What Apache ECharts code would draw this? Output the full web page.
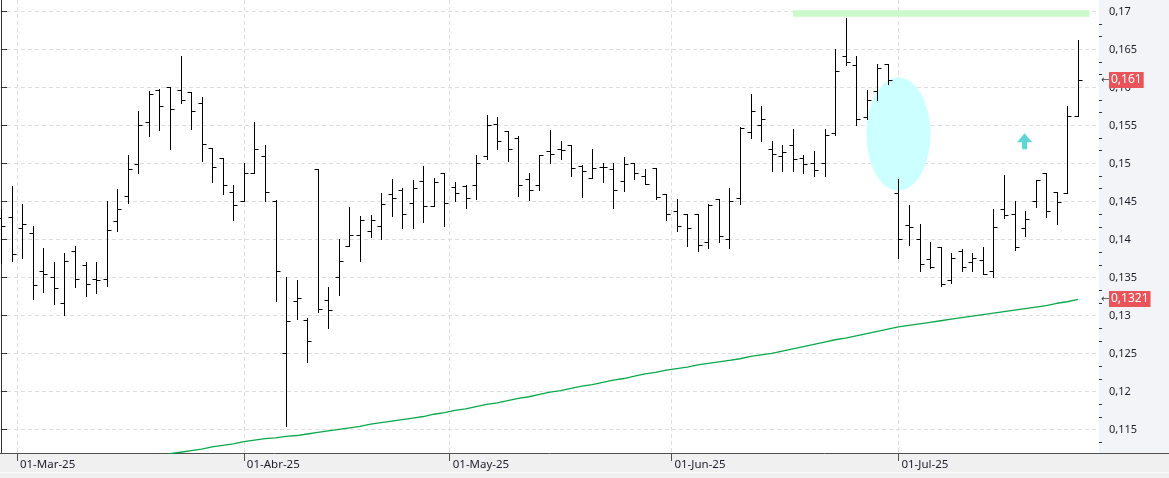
<!DOCTYPE html>
<html>
<head>
<meta charset="utf-8">
<script src="https://cdn.jsdelivr.net/npm/echarts@6/dist/echarts.min.js"></script>
<style>
html,body{margin:0;padding:0;background:#f0f0f0;}
#c{width:1169px;height:478px;}
</style>
</head>
<body>
<div id="c"></div>
<script>
// ---- data (trading days, 2025) ----
const dates = ['02-27','02-28',
 '03-03','03-04','03-05','03-06','03-07','03-10','03-11','03-12','03-13','03-14','03-17','03-18','03-19','03-20','03-21','03-24','03-25','03-26','03-27','03-28','03-31',
 '04-01','04-02','04-03','04-04','04-07','04-08','04-09','04-10','04-11','04-14','04-15','04-16','04-17','04-22','04-23','04-24','04-25','04-28','04-29','04-30',
 '05-02','05-05','05-06','05-07','05-08','05-09','05-12','05-13','05-14','05-15','05-16','05-19','05-20','05-21','05-22','05-23','05-26','05-27','05-28','05-29','05-30',
 '06-02','06-03','06-04','06-05','06-06','06-09','06-10','06-11','06-12','06-13','06-16','06-17','06-18','06-19','06-20','06-23','06-24','06-25','06-26','06-27','06-30',
 '07-01','07-02','07-03','07-04','07-07','07-08','07-09','07-10','07-11','07-14','07-15','07-16','07-17','07-18','07-21','07-22','07-23','07-24'];

const open = [0.1428,0.1430,0.1415,0.1408,0.1358,0.1351,0.1316,0.1385,0.1366,0.1348,0.1348,0.1424,0.1457,0.1499,0.1554,0.1596,0.1600,0.1596,0.1594,0.1579,
 0.1520,0.1507,0.1462,0.1450,0.1488,0.1510,0.1451,0.1250,0.1319,0.1294,0.1492,0.1320,0.1350,0.1392,0.1406,0.1411,0.1418,0.1460,0.1465,0.1448,
 0.1477,0.1444,0.1488,0.1469,0.1470,0.1472,0.1510,0.1552,0.1542,0.1533,0.1480,0.1472,0.1516,0.1519,0.1524,0.1496,0.1481,0.1495,0.1492,0.1477,
 0.1500,0.1484,0.1494,0.1460,0.1438,0.1434,0.1434,0.1397,0.1453,0.1400,0.1454,0.1541,0.1550,0.1519,0.1510,0.1524,0.1507,0.1500,0.1500,0.1540,
 0.1641,0.1629,0.1561,0.1595,0.1631,0.1461,0.1419,0.1400,0.1374,0.1390,0.1347,0.1385,0.1370,0.1373,0.1358,0.1440,0.1434,0.1415,0.1450,0.1487,
 0.1462,0.1461,0.1562];
const high = [0.1440,0.1470,0.1447,0.1418,0.1389,0.1370,0.1382,0.1392,0.1370,0.1370,0.1450,0.1466,0.1511,0.1569,0.1595,0.1598,0.1600,0.1641,0.1594,0.1587,
 0.1520,0.1507,0.1471,0.1500,0.1554,0.1524,0.1452,0.1350,0.1347,0.1296,0.1492,0.1338,0.1400,0.1442,0.1431,0.1432,0.1461,0.1480,0.1468,0.1478,
 0.1496,0.1481,0.1488,0.1476,0.1472,0.1511,0.1564,0.1561,0.1542,0.1536,0.1488,0.1511,0.1544,0.1529,0.1524,0.1498,0.1519,0.1500,0.1500,0.1508,
 0.1500,0.1492,0.1494,0.1460,0.1453,0.1434,0.1434,0.1447,0.1453,0.1468,0.1548,0.1591,0.1576,0.1530,0.1524,0.1545,0.1511,0.1516,0.1545,0.1651,
 0.1691,0.1641,0.1597,0.1631,0.1631,0.1480,0.1445,0.1420,0.1396,0.1390,0.1382,0.1388,0.1382,0.1390,0.1440,0.1485,0.1450,0.1438,0.1478,0.1488,
 0.1462,0.1576,0.1663];
const low = [0.1369,0.1372,0.1376,0.1322,0.1331,0.1315,0.1301,0.1338,0.1326,0.1330,0.1339,0.1411,0.1448,0.1488,0.1536,0.1544,0.1519,0.1580,0.1545,0.1503,
 0.1476,0.1460,0.1426,0.1450,0.1488,0.1450,0.1319,0.1154,0.1295,0.1239,0.1304,0.1283,0.1327,0.1391,0.1372,0.1403,0.1400,0.1431,0.1415,0.1415,
 0.1423,0.1444,0.1418,0.1450,0.1441,0.1453,0.1506,0.1519,0.1503,0.1457,0.1452,0.1465,0.1500,0.1506,0.1483,0.1456,0.1481,0.1475,0.1441,0.1464,
 0.1479,0.1473,0.1453,0.1426,0.1411,0.1391,0.1385,0.1389,0.1396,0.1389,0.1446,0.1533,0.1529,0.1490,0.1490,0.1490,0.1487,0.1484,0.1484,0.1538,
 0.1630,0.1550,0.1558,0.1583,0.1604,0.1376,0.1393,0.1358,0.1362,0.1339,0.1343,0.1359,0.1358,0.1355,0.1350,0.1428,0.1386,0.1404,0.1442,0.1430,
 0.1420,0.1461,0.1562];
const close = [0.1418,0.1381,0.1420,0.1340,0.1355,0.1336,0.1372,0.1348,0.1342,0.1346,0.1412,0.1440,0.1492,0.1550,0.1591,0.1576,0.1572,0.1584,0.1569,0.1526,
 0.1495,0.1472,0.1445,0.1488,0.1519,0.1462,0.1358,0.1293,0.1323,0.1266,0.1309,0.1307,0.1372,0.1406,0.1426,0.1426,0.1446,0.1454,0.1434,0.1468,
 0.1444,0.1476,0.1448,0.1461,0.1454,0.1500,0.1550,0.1530,0.1519,0.1472,0.1465,0.1511,0.1512,0.1518,0.1494,0.1490,0.1494,0.1495,0.1465,0.1499,
 0.1487,0.1473,0.1456,0.1434,0.1418,0.1415,0.1393,0.1445,0.1404,0.1450,0.1546,0.1569,0.1558,0.1512,0.1515,0.1506,0.1499,0.1491,0.1538,0.1622,
 0.1634,0.1558,0.1584,0.1626,0.1610,0.1401,0.1416,0.1368,0.1364,0.1341,0.1376,0.1364,0.1376,0.1355,0.1416,0.1432,0.1390,0.1427,0.1478,0.1438,
 0.1449,0.1562,0.1610];
// moving average (green), null before it enters the chart
const ma = [null,null,null,null,null,null,null,null,null,null,null,null,null,null,0.1113,0.1115,0.1118,0.1120,0.1122,0.1124,
 0.1127,0.1129,0.1131,0.1134,0.1136,0.1138,0.1139,0.1141,0.1142,0.1144,0.1146,0.1148,0.1150,0.1152,0.1154,0.1157,0.1159,0.1161,0.1163,0.1165,
 0.1167,0.1170,0.1172,0.1175,0.1177,0.1180,0.1183,0.1185,0.1188,0.1191,0.1193,0.1196,0.1199,0.1201,0.1204,0.1207,0.1209,0.1212,0.1215,0.1217,
 0.1220,0.1223,0.1225,0.1228,0.1230,0.1232,0.1235,0.1237,0.1239,0.1241,0.1243,0.1246,0.1248,0.1250,0.1253,0.1256,0.1259,0.1262,0.1265,0.1268,
 0.1270,0.1273,0.1276,0.1279,0.1282,0.1285,0.1287,0.1289,0.1291,0.1293,0.1295,0.1297,0.1299,0.1301,0.1303,0.1305,0.1307,0.1309,0.1311,0.1313,
 0.1316,0.1318,0.1321];

const monthStarts = ['03-01','04-01','05-01','06-01','07-01'];
const monthLabels = ['01-Mar-25','01-Abr-25','01-May-25','01-Jun-25','01-Jul-25'];
const yTicks = [0.115,0.12,0.125,0.13,0.135,0.14,0.145,0.15,0.155,0.16,0.165,0.17];

// annotations (in data coordinates)
const resistance = [[75.0,0.16974],[103.1,0.16974]];
const ellipseZone = [[85.0,0.15386,6.06,0.01491]];
const upArrow = [[96.95,0.1529]];

// ---- derived ----
const monthPos = monthStarts.map(function(m){
  const i = dates.indexOf(m);
  if (i >= 0) return i;
  for (let j=0;j<dates.length;j++){ if (dates[j] > m) return j - 0.5; }
  return dates.length - 0.5;
});
const ohlc = dates.map(function(d,i){ return [i, open[i], high[i], low[i], close[i]]; });
const maData = [];
ma.forEach(function(v,i){ if (v!==null) maData.push([i,v]); });
const yMin = 0.1119, yMax = 0.1715;
const minorTicks = [];
yTicks.concat([0.11]).forEach(function(t){
  [1,2].forEach(function(s){ const v = +(t + s*0.005/3).toFixed(6); if (v>yMin && v<yMax) minorTicks.push(v); });
});
function fmt(v){ return String(+v.toFixed(4)).replace('.', ','); }

const chart = echarts.init(document.getElementById('c'), null, {renderer:'canvas'});
const lastClose = close[close.length-1];
const lastMa = ma[ma.length-1];
const lastValues = [lastClose, lastMa];

chart.setOption({
  animation:false,
  backgroundColor:'#f0f0f0',
  textStyle:{fontFamily:'Noto Sans'},
  graphic:[
    {type:'rect', z:-10, silent:true, shape:{x:1099,y:0,width:70,height:453}, style:{fill:'#f3f4f7'}},
    {type:'rect', z:-10, silent:true, shape:{x:0,y:472,width:1169,height:1}, style:{fill:'#fbfbfb'}},
    {type:'line', z:10, silent:true, shape:{x1:1099,y1:453.5,x2:1169,y2:453.5}, style:{stroke:'#505050',lineWidth:1}}
  ],
  grid:{left:0, right:70, top:0, bottom:25, show:true, backgroundColor:'#ffffff', borderWidth:0, containLabel:false, outerBoundsMode:'none'},
  xAxis:{
    type:'value', min:-0.1, max:104,
    axisLine:{show:true, onZero:false, lineStyle:{color:'#505050', width:1}},
    axisTick:{show:true, customValues:monthPos, length:8, lineStyle:{color:'#505050'}},
    axisLabel:{show:true, customValues:monthPos, align:'left', margin:6, padding:[0,0,0,3],
      color:'#1e1e2a', fontSize:11.5, fontFamily:'Noto Sans',
      formatter:function(v){ const i = monthPos.indexOf(v); return i>=0 ? monthLabels[i] : ''; }},
    splitLine:{show:true, lineStyle:{color:'#dedede', type:[4,3], width:1}}
  },
  yAxis:[{
    type:'value', position:'right', min:yMin, max:yMax,
    axisLine:{show:true, lineStyle:{color:'#333', width:1}},
    axisTick:{show:true, customValues:yTicks, length:6, lineStyle:{color:'#333'}},
    axisLabel:{show:true, customValues:yTicks, margin:10, color:'#1e1e2a', fontSize:11, fontFamily:'Noto Sans',
      formatter:function(v){ return fmt(v); }},
    splitLine:{show:true, lineStyle:{color:'#dedede', type:[4,3], width:1}}
  },{
    type:'value', position:'right', min:yMin, max:yMax,
    axisLine:{show:false},
    axisTick:{show:true, customValues:minorTicks, length:3, lineStyle:{color:'#333'}},
    axisLabel:{show:false},
    splitLine:{show:false}
  }],
  series:[
    {
      type:'custom', name:'zone', z:1, silent:true,
      data:ellipseZone,
      renderItem:function(params, api){
        const c = api.coord([api.value(0), api.value(1)]);
        const s = api.size([api.value(2), api.value(3)]);
        return {type:'ellipse', shape:{cx:c[0], cy:c[1], rx:s[0]/2, ry:s[1]/2}, style:{fill:'#ccffff'}};
      }
    },
    {
      type:'line', name:'resistance', z:2, silent:true, symbol:'none',
      data:resistance, lineStyle:{color:'#ccf9cc', width:6.5}
    },
    {
      type:'line', name:'MA', z:3, silent:true, symbol:'none',
      data:maData, lineStyle:{color:'#0aa84a', width:1.3}
    },
    {
      type:'custom', name:'OHLC', z:4, silent:true,
      data:ohlc,
      encode:{x:0, y:[1,2,3,4]},
      renderItem:function(params, api){
        const k = api.value(0);
        const ph = api.coord([k, api.value(2)]);
        const pl = api.coord([k, api.value(3)]);
        const po = api.coord([k, api.value(1)]);
        const pc = api.coord([k, api.value(4)]);
        const x = Math.round(ph[0]) + 0.5;
        const w = 4;
        const yo = Math.round(po[1]) + 0.5, yc = Math.round(pc[1]) + 0.5;
        const st = {stroke:'#000', lineWidth:1};
        return {type:'group', children:[
          {type:'line', shape:{x1:x, y1:Math.round(ph[1]), x2:x, y2:Math.round(pl[1])+1}, style:st},
          {type:'line', shape:{x1:x-w, y1:yo, x2:x, y2:yo}, style:st},
          {type:'line', shape:{x1:x, y1:yc, x2:x+w, y2:yc}, style:st}
        ]};
      }
    },
    {
      type:'scatter', name:'arrow', z:5, silent:true,
      data:upArrow,
      symbol:'path://M7.5,0 L15,9 L10,9 L10,16 L5,16 L5,9 L0,9 Z',
      symbolSize:[15,16],
      itemStyle:{color:'#33cccc'}
    },
    {
      // last-value badges on the price axis
      type:'custom', name:'badges', z:20, silent:true, clip:false,
      data:lastValues.map(function(v){ return [104, v]; }),
      renderItem:function(params, api){
        const p = api.coord([api.value(0), api.value(1)]);
        const y = Math.round(p[1]);
        const txt = fmt(api.value(1));
        return {type:'group', children:[
          {type:'text', x:p[0]+2, y:y, style:{text:'←', fill:'#444', font:'10px "DejaVu Sans"', verticalAlign:'middle', align:'left'}},
          {type:'text', x:p[0]+10, y:y, z2:2, style:{text:txt, fill:'#fff', font:'12px "Noto Sans"', verticalAlign:'middle', align:'left',
            backgroundColor:'#e9545b', padding:[2,2,2,2]}}
        ]};
      }
    }
  ]
});
</script>
</body>
</html>
